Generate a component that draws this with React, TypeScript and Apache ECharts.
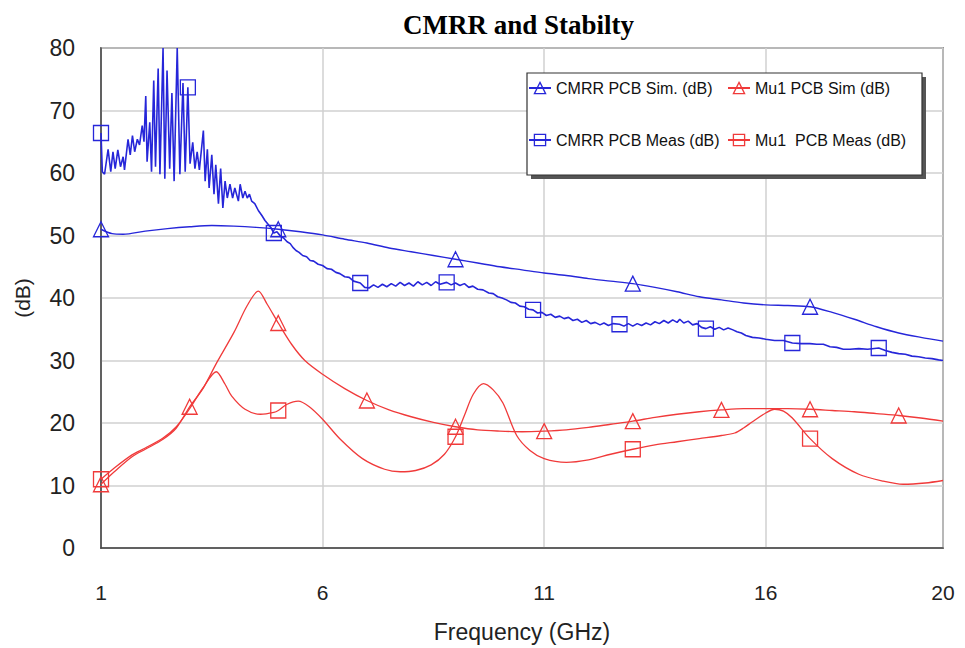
import React, { useEffect, useRef } from "react";
import * as echarts from "echarts";

// ---------- data (frequency GHz, dB) ----------
const cmrrSim: [number, number][] = [
  [1.0, 51.0], [1.25, 50.3], [1.5, 50.2], [2.0, 50.7], [2.5, 51.1], [3.0, 51.4], [3.5, 51.6], [4.0, 51.5],
  [4.5, 51.3], [5.0, 51.0], [5.5, 50.6], [6.0, 50.1], [6.5, 49.4], [7.0, 48.8], [7.5, 48.0], [8.0, 47.4],
  [8.5, 46.8], [9.0, 46.2], [9.5, 45.6], [10.0, 45.0], [10.5, 44.5], [11.0, 44.0], [11.5, 43.6], [12.0, 43.1],
  [12.5, 42.7], [13.0, 42.3], [13.5, 41.7], [14.0, 41.0], [14.5, 40.2], [15.0, 39.7], [15.5, 39.2], [16.0, 38.9],
  [16.5, 38.8], [17.0, 38.6], [17.5, 37.7], [18.0, 36.6], [18.5, 35.4], [19.0, 34.4], [19.5, 33.7], [20.0, 33.1],
];
const cmrrSimMarkers = [1, 5, 9, 13, 17];

const cmrrMeas: [number, number][] = [
  [1.0, 66.4], [1.03, 60.2], [1.08, 59.8], [1.16, 63.8], [1.22, 60.2], [1.27, 63.4], [1.32, 60.7], [1.38, 63.7],
  [1.44, 61.0], [1.5, 62.6], [1.53, 60.5], [1.61, 65.4], [1.66, 62.9], [1.71, 66.0], [1.76, 63.4], [1.82, 65.4],
  [1.87, 64.5], [1.93, 67.6], [1.97, 65.0], [2.01, 72.3], [2.04, 61.8], [2.1, 68.1], [2.14, 60.2], [2.19, 74.8],
  [2.23, 61.0], [2.29, 76.7], [2.33, 59.8], [2.4, 80.0], [2.44, 59.1], [2.49, 76.4], [2.55, 60.7], [2.6, 72.8],
  [2.65, 58.7], [2.72, 80.0], [2.78, 59.8], [2.85, 74.4], [2.9, 60.2], [2.96, 73.7], [3.01, 61.5], [3.07, 64.9],
  [3.12, 60.7], [3.17, 63.4], [3.22, 60.5], [3.31, 66.8], [3.35, 58.7], [3.4, 63.8], [3.44, 57.6], [3.5, 62.9],
  [3.55, 56.6], [3.59, 61.3], [3.65, 55.1], [3.7, 60.7], [3.75, 54.4], [3.8, 58.7], [3.85, 56.0], [3.91, 58.2],
  [3.97, 56.0], [4.02, 57.6], [4.1, 55.5], [4.14, 58.2], [4.2, 56.0], [4.25, 57.1], [4.3, 56.0], [4.35, 56.6],
  [4.4, 55.5], [4.47, 55.1], [4.55, 54.0], [4.63, 53.2], [4.7, 52.4], [4.77, 51.8], [4.84, 51.2], [4.9, 50.4],
  [4.97, 50.6], [5.05, 49.9], [5.12, 49.6], [5.2, 49.0], [5.27, 48.7], [5.33, 48.1], [5.4, 47.6], [5.47, 47.3],
  [5.55, 46.8], [5.64, 46.6], [5.72, 46.0], [5.8, 45.9], [5.9, 45.4], [6.0, 45.2], [6.1, 44.7], [6.2, 44.6],
  [6.3, 44.1], [6.39, 43.9], [6.5, 43.4], [6.6, 43.3], [6.7, 42.7], [6.85, 42.4], [6.95, 41.7], [7.05, 41.6],
  [7.15, 42.1], [7.25, 41.7], [7.35, 42.2], [7.45, 41.8], [7.55, 42.3], [7.65, 41.9], [7.75, 42.5], [7.85, 42.0],
  [7.95, 42.4], [8.05, 41.9], [8.15, 42.6], [8.25, 42.1], [8.35, 42.5], [8.45, 42.0], [8.55, 42.6], [8.65, 42.2],
  [8.8, 42.5], [8.9, 42.1], [9.0, 42.4], [9.1, 42.0], [9.2, 42.3], [9.3, 41.7], [9.39, 41.9], [9.5, 41.4],
  [9.62, 41.3], [9.75, 40.8], [9.85, 40.7], [9.95, 40.2], [10.05, 40.0], [10.15, 39.7], [10.25, 39.3], [10.35, 39.2],
  [10.45, 38.7], [10.55, 38.6], [10.65, 38.2], [10.75, 38.1], [10.85, 37.6], [10.95, 37.7], [11.05, 37.2], [11.15, 37.4],
  [11.25, 36.9], [11.35, 37.1], [11.45, 36.7], [11.55, 36.9], [11.65, 36.4], [11.75, 36.6], [11.85, 36.1], [11.95, 36.4],
  [12.05, 35.9], [12.15, 36.1], [12.26, 35.7], [12.35, 36.0], [12.45, 35.6], [12.55, 35.9], [12.7, 35.8], [12.8, 35.5],
  [12.9, 35.9], [13.0, 35.5], [13.1, 35.9], [13.2, 35.6], [13.3, 36.0], [13.4, 35.7], [13.5, 36.2], [13.6, 35.9],
  [13.7, 36.4], [13.8, 36.0], [13.9, 36.5], [14.0, 36.1], [14.06, 36.6], [14.15, 36.0], [14.25, 36.3], [14.35, 35.7],
  [14.45, 35.9], [14.55, 35.3], [14.65, 35.1], [14.75, 35.4], [14.85, 35.0], [14.95, 35.3], [15.05, 34.9], [15.15, 35.2],
  [15.26, 34.9], [15.35, 34.6], [15.45, 34.4], [15.55, 34.0], [15.7, 33.7], [15.85, 33.6], [16.0, 33.4], [16.2, 33.2],
  [16.4, 33.2], [16.6, 32.8], [16.8, 32.7], [17.0, 32.7], [17.15, 32.6], [17.3, 32.6], [17.45, 32.2], [17.6, 32.1],
  [17.75, 31.8], [17.9, 31.8], [18.1, 31.9], [18.3, 31.8], [18.55, 32.0], [18.7, 31.6], [18.85, 31.3], [19.0, 31.1],
  [19.15, 31.0], [19.3, 30.7], [19.45, 30.6], [19.6, 30.4], [19.75, 30.3], [19.9, 30.1], [20.0, 30.0],
];
const cmrrMeasMarkers = [1.0, 2.96, 4.9, 6.85, 8.8, 10.75, 12.7, 14.65, 16.6, 18.55];

const mu1Sim: [number, number][] = [
  [1.0, 10.2], [1.3, 12.2], [1.7, 14.6], [2.0, 15.8], [2.4, 17.4], [2.7, 19.2], [3.0, 22.6], [3.3, 25.5],
  [3.6, 29.5], [4.0, 34.5], [4.3, 38.8], [4.55, 41.1], [4.75, 39.0], [5.0, 36.0], [5.3, 32.6], [5.6, 30.0],
  [6.0, 27.8], [6.5, 25.5], [7.0, 23.6], [7.5, 22.1], [8.0, 21.0], [8.5, 20.1], [9.0, 19.4], [9.5, 18.9],
  [10.0, 18.7], [10.5, 18.6], [11.0, 18.7], [11.5, 18.9], [12.0, 19.3], [12.5, 19.8], [13.0, 20.3], [13.5, 20.9],
  [14.0, 21.4], [14.5, 21.8], [15.0, 22.1], [15.5, 22.3], [16.0, 22.3], [16.5, 22.3], [17.0, 22.2], [17.5, 22.0],
  [18.0, 21.8], [18.5, 21.5], [19.0, 21.2], [19.5, 20.8], [20.0, 20.3],
];
const mu1SimMarkers = [1, 3, 5, 7, 9, 11, 13, 15, 17, 19];

const mu1Meas: [number, number][] = [
  [1.0, 11.0], [1.3, 12.8], [1.7, 14.9], [2.0, 16.0], [2.4, 17.6], [2.7, 19.4], [3.0, 22.3], [3.3, 25.6],
  [3.6, 28.2], [3.8, 26.2], [3.95, 24.3], [4.25, 22.2], [4.6, 21.4], [4.9, 21.7], [5.0, 22.0], [5.2, 23.0],
  [5.45, 23.5], [5.7, 22.6], [6.0, 20.6], [6.4, 17.4], [6.9, 14.3], [7.4, 12.6], [7.75, 12.2], [8.1, 12.4],
  [8.45, 13.3], [8.75, 15.0], [9.0, 17.8], [9.2, 21.2], [9.4, 24.6], [9.63, 26.3], [9.85, 25.3], [10.07, 23.2],
  [10.38, 18.0], [10.68, 15.6], [11.0, 14.3], [11.5, 13.7], [12.0, 14.1], [12.5, 15.0], [13.0, 15.8], [13.5, 16.5],
  [14.0, 17.0], [14.5, 17.5], [15.0, 18.0], [15.3, 18.4], [15.5, 19.2], [15.7, 20.2], [16.0, 21.6], [16.2, 22.2],
  [16.4, 21.9], [16.6, 20.8], [17.0, 17.5], [17.5, 14.3], [18.1, 11.8], [18.65, 10.7], [19.1, 10.2], [19.6, 10.4],
  [20.0, 10.8],
];
const mu1MeasMarkers = [1, 5, 9, 13, 17];

const xTicksMin = 1;
const xTicksMax = 20;
const yTicksMax = 80;

const BLUE = "#2626d9";
const RED = "#f03a3a";
const SANS = "'Liberation Sans', Arial, sans-serif";

function withMarkers(points: [number, number][], markers: number[], symbol: string) {
  return points.map(([x, y]) => ({
    value: [x, y],
    symbol: markers.some((m) => Math.abs(m - x) < 1e-6) ? symbol : "none",
  }));
}

function lineSeries(name: string, points: [number, number][], markers: number[], symbol: string, color: string, smooth: number | boolean, width: number) {
  return {
    name,
    type: "line",
    data: withMarkers(points, markers, symbol),
    symbol,
    symbolSize: 15,
    showSymbol: true,
    showAllSymbol: true,
    smooth,
    lineStyle: { color, width },
    itemStyle: { color: "rgba(255,255,255,0)", borderColor: color, borderWidth: 1.3 },
    emphasis: { disabled: true },
    silent: true,
  };
}

export default function App() {
  const ref = useRef<HTMLDivElement>(null);
  useEffect(() => {
    document.body.style.margin = "0";
    const chart = echarts.init(ref.current!, null, { renderer: "svg" });
    const legendCommon = {
      orient: "vertical",
      itemWidth: 22,
      itemHeight: 14,
      itemGap: 36,
      selectedMode: false,
      z: 10,
      padding: 0,
      textStyle: { fontFamily: SANS, fontSize: 16, color: "#111" },
      itemStyle: { borderWidth: 1.3 },
    };
    chart.setOption({
      animation: false,
      backgroundColor: "#fff",
      title: {
        text: "CMRR and Stabilty",
        left: 398,
        top: 6,
        textStyle: { fontFamily: "'Liberation Serif', 'Times New Roman', serif", fontWeight: "bold", fontSize: 27, color: "#000" },
      },
      grid: { left: 101, right: 22, top: 48, bottom: 90, show: true, borderColor: "#444", borderWidth: 1.5, backgroundColor: "transparent" },
      xAxis: {
        type: "value",
        min: xTicksMin,
        max: xTicksMax,
        interval: 5,
        name: "Frequency (GHz)",
        nameLocation: "middle",
        nameGap: 72,
        nameTextStyle: { fontFamily: SANS, fontSize: 23, color: "#222" },
        axisLine: { show: true, lineStyle: { color: "#444", width: 1.5 } },
        axisTick: { show: false },
        axisLabel: { fontFamily: SANS, fontSize: 21, color: "#222", margin: 34 },
        splitLine: { show: true, lineStyle: { color: "#d0d0d0", width: 1.5 } },
      },
      yAxis: {
        type: "value",
        min: 0,
        max: yTicksMax,
        interval: 10,
        name: "(dB)",
        nameLocation: "middle",
        nameRotate: 90,
        nameGap: 68,
        nameTextStyle: { fontFamily: SANS, fontSize: 21, color: "#222" },
        axisLine: { show: true, lineStyle: { color: "#444", width: 1.5 } },
        axisTick: { show: false },
        axisLabel: { fontFamily: SANS, fontSize: 23, color: "#222", margin: 26 },
        splitLine: { show: true, lineStyle: { color: "#d0d0d0", width: 1.5 } },
      },
      legend: [
        { ...legendCommon, left: 528, top: 80, data: ["CMRR PCB Sim. (dB)", "CMRR PCB Meas (dB)"] },
        { ...legendCommon, left: 727, top: 80, data: ["Mu1 PCB Sim (dB)", "Mu1  PCB Meas (dB)"] },
      ],
      graphic: [
        { type: "rect", z: 8, shape: { x: 531, y: 77, width: 395, height: 102 }, style: { fill: "#555", stroke: "none" } },
        { type: "rect", z: 9, shape: { x: 527, y: 73, width: 395, height: 102 }, style: { fill: "#fff", stroke: "#333", lineWidth: 1.2 } },
      ],
      series: [
        lineSeries("CMRR PCB Sim. (dB)", cmrrSim, cmrrSimMarkers, "triangle", BLUE, 0.3, 1.4),
        lineSeries("CMRR PCB Meas (dB)", cmrrMeas, cmrrMeasMarkers, "rect", BLUE, false, 1.6),
        lineSeries("Mu1 PCB Sim (dB)", mu1Sim, mu1SimMarkers, "triangle", RED, 0.3, 1.3),
        lineSeries("Mu1  PCB Meas (dB)", mu1Meas, mu1MeasMarkers, "rect", RED, 0.3, 1.3),
      ],
    });
    return () => chart.dispose();
  }, []);
  return <div ref={ref} style={{ width: 965, height: 648 }} />;
}
